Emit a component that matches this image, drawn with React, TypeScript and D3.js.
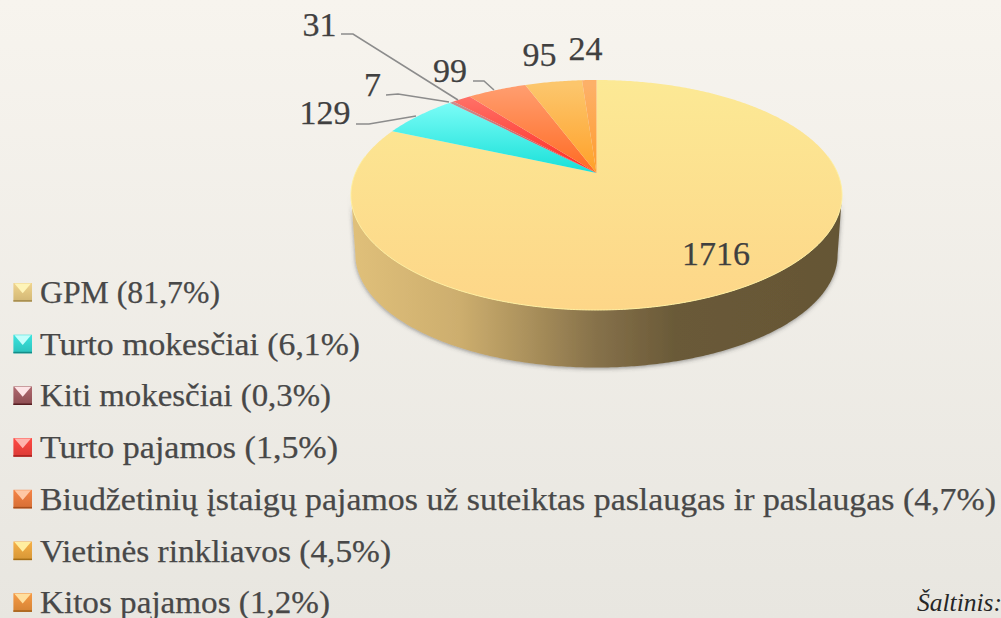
import React from "react";
import * as d3 from "d3";

const categories = ["GPM", "Turto mokesčiai", "Kiti mokesčiai", "Turto pajamos", "Biudžetinių įstaigų pajamos už suteiktas paslaugas ir paslaugas", "Vietinės rinkliavos", "Kitos pajamos"];
const values = [1716, 129, 7, 31, 99, 95, 24];
const shares = ["81,7%", "6,1%", "0,3%", "1,5%", "4,7%", "4,5%", "1,2%"];

// slice colours: outer edge -> apex
const sliceOuter = ["#fce995", "#7ffdf8", "#c9a0a0", "#ff7c72", "#ff9e70", "#fcc66c", "#fdb068"];
const sliceInner = ["#fdd688", "#17e0d8", "#d04048", "#ff2a22", "#ff6a22", "#ffa028", "#ff9c2c"];
// legend bevel colours
const bevelLight = ["#fef4b8", "#c4fefb", "#fde4e6", "#ffb4ae", "#ffc8a4", "#ffeea0", "#ffdf9e"];
const bevelMid = ["#f0d48e", "#3ce4de", "#b06a70", "#ff4a44", "#f58446", "#f6b048", "#f69a46"];
const bevelDark = ["#a58c4e", "#148c88", "#571e22", "#a5221e", "#a84e1c", "#a56e18", "#a4601a"];
// hand-read label layout
const legendRight = [220, 360, 331, 338, 996, 391, 330];
const labelX = [716, 325, 372.5, 319.5, 450, 539.5, 585.5];
const labelY = [265, 124, 96, 36, 82, 66, 60];
const leaders: (number[][] | null)[] = [
  null,
  [[356, 124], [369, 124], [416, 116]],
  [[386, 95], [398, 94], [449, 102]],
  [[341, 34], [353, 34], [458, 100]],
  [[473, 81], [484, 81], [494, 90]],
  null,
  null,
];

const CX = 596.5;
const APEX_Y = 173;
const FAR = 93;
const NEAR = 137;
const RX = 245.5;
const c = (NEAR - FAR) / (NEAR + FAR);
const A = FAR * (1 + c);
const B = RX * Math.sqrt(1 - c * c);

function project(theta: number, scale = 1, ay = APEX_Y): [number, number] {
  const u = Math.sin(theta);
  const v = Math.cos(theta);
  const d = 1 + c * v;
  return [CX + (scale * B * u) / d, ay - (scale * A * v) / d];
}

function rim(a0: number, a1: number, scale = 1, ay = APEX_Y): [number, number][] {
  const n = Math.max(2, Math.ceil(Math.abs(a1 - a0) / 0.01));
  return d3.range(n + 1).map((i) => project(a0 + ((a1 - a0) * i) / n, scale, ay));
}

const pieGen = d3.pie<number>().sort(null).value((d) => d);
const arcs = pieGen(values);
const lineGen = d3.line();

export default function App() {
  const ext = Math.acos(-c);
  const sidePts = [...rim(ext, 2 * Math.PI - ext), ...rim(ext, 2 * Math.PI - ext, 0.982, 233).reverse()];
  const font = "'Liberation Serif', serif";
  return (
    <svg
      width={1001}
      height={618}
      viewBox="0 0 1001 618"
      style={{ position: "absolute", left: 0, top: 0, display: "block" }}
    >
      <defs>
        <linearGradient id="bg" x1="0" y1="0" x2="0" y2="1">
          <stop offset="0" stopColor="#f7f4ee" />
          <stop offset="1" stopColor="#e8e6e0" />
        </linearGradient>
        <linearGradient id="side" gradientUnits="userSpaceOnUse" x1={351} x2={842} y1={0} y2={0}>
          <stop offset="0" stopColor="#e0c07a" />
          <stop offset="0.22" stopColor="#cdae6e" />
          <stop offset="0.36" stopColor="#ab915c" />
          <stop offset="0.5" stopColor="#86714a" />
          <stop offset="0.66" stopColor="#6a5a38" />
          <stop offset="1" stopColor="#655635" />
        </linearGradient>
        <filter id="sh" x="-5%" y="-5%" width="110%" height="115%">
          <feDropShadow dx={0} dy={1} stdDeviation={2} floodColor="#404040" floodOpacity={0.55} />
        </filter>
        {values.map((_, i) => (
          <linearGradient
            key={i}
            id={`s${i}`}
            gradientUnits="userSpaceOnUse"
            x1={0}
            x2={0}
            y1={i === 0 ? 80 : i === 1 ? 100 : 85}
            y2={i === 0 ? 310 : 173}
          >
            <stop offset="0" stopColor={sliceOuter[i]} />
            <stop offset="1" stopColor={sliceInner[i]} />
          </linearGradient>
        ))}
        {values.map((_, i) => (
          <linearGradient key={i} id={`m${i}`} x1="0" y1="0" x2="0" y2="1">
            <stop offset="0" stopColor={bevelMid[i]} />
            <stop offset="1" stopColor={d3.interpolateRgb(bevelMid[i], bevelDark[i])(0.4)} />
          </linearGradient>
        ))}
      </defs>
      <rect width={1001} height={618} fill="url(#bg)" />

      <path d={lineGen(sidePts) + "Z"} fill="url(#side)" filter="url(#sh)" />
      {arcs.map((a, i) => {
        const pts: [number, number][] = [[CX, APEX_Y], ...rim(a.startAngle, a.endAngle)];
        return <path key={i} d={lineGen(pts) + "Z"} fill={`url(#s${i})`} />;
      })}
      <path
        d={lineGen(rim(ext - 0.35, 2 * Math.PI - ext + 0.35)) ?? ""}
        fill="none"
        stroke="#fff0a0"
        strokeWidth={1}
      />

      {leaders.map((l, i) =>
        l ? (
          <path key={i} d={lineGen(l as [number, number][]) ?? ""} fill="none" stroke="#8c8c8c" strokeWidth={1.6} />
        ) : null
      )}
      {values.map((v, i) => (
        <text
          key={i}
          x={labelX[i]}
          y={labelY[i]}
          textAnchor="middle"
          fontFamily={font}
          fontSize={34}
          fill="#404040"
          stroke="#404040"
          strokeWidth={0.25}
        >
          {v}
        </text>
      ))}

      {categories.map((name, i) => {
        const y = 303 + i * 51.7;
        const s = 18.6;
        const x0 = 13.4;
        const y0 = y - 20;
        return (
          <g key={i}>
            <rect x={x0} y={y0} width={s} height={s} fill={`url(#m${i})`} />
            <polygon
              points={[[x0 + 1, y0 + 0.5], [x0 + s - 1, y0 + 0.5], [x0 + s / 2, y0 + s * 0.55]].map((p) => p.join(",")).join(" ")}
              fill={bevelLight[i]}
            />
            <rect x={x0} y={y0 + s - 1.5} width={s} height={1.5} fill={bevelDark[i]} />
            <text
              x={40}
              y={y}
              fontFamily={font}
              fontSize={32}
              fill="#484848"
              stroke="#484848"
              strokeWidth={0.25}
              textLength={legendRight[i] - 40}
              lengthAdjust="spacingAndGlyphs"
            >
              {`${name} (${shares[i]})`}
            </text>
          </g>
        );
      })}
      <text x={917} y={611} fontFamily={font} fontStyle="italic" fontSize={25.5} fill="#262626">
        Šaltinis:
      </text>
    </svg>
  );
}
